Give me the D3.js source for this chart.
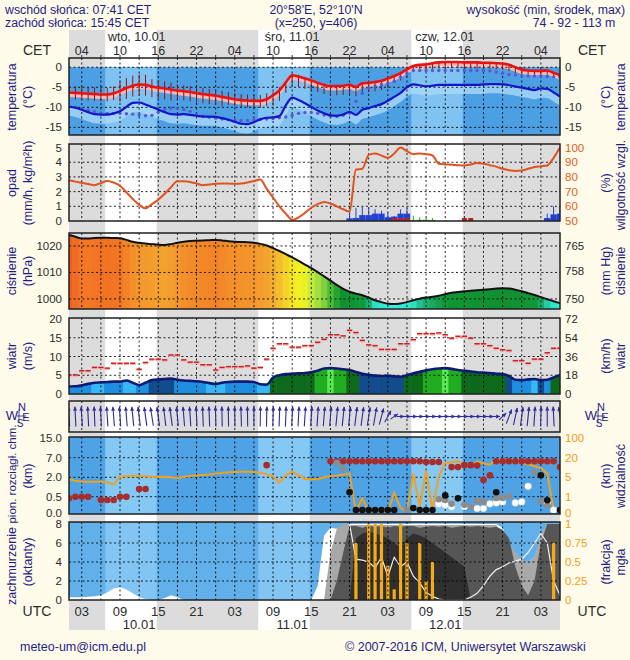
<!DOCTYPE html>
<html><head><meta charset="utf-8">
<script src="https://cdn.jsdelivr.net/npm/d3@7/dist/d3.min.js"></script>
<style>
html,body{margin:0;padding:0;background:#fffbea;}
svg{display:block;font-family:"Liberation Sans",Arial,Helvetica,sans-serif;}
</style></head><body>
<svg id="chart" width="630" height="660"></svg>
<script>
// ---------- DATA (hourly, h=0 is 01 UTC 10.01) ----------
const daylight = [[5.68,13.75],[29.68,37.75],[53.68,61.75]];
const cetLabels = ['04','10','16','22','04','10','16','22','04','10','16','22','04'];
const utcLabels = ['03','09','15','21','03','09','15','21','03','09','15','21','03'];
const labelHours = [2,8,14,20,26,32,38,44,50,56,62,68,74];
const dayNames = ['wto, 10.01','śro, 11.01','czw, 12.01'];
const dayNameHours = [6.1,30.7,54.3];
const dates = ['10.01','11.01','12.01'];
const dateHours = [11,35,59];

const temp = [-6.3,-6.4,-6.5,-6.6,-6.7,-6.8,-6.8,-6.5,-5.9,-5.2,
 -4.6,-4.3,-4.4,-4.8,-5.1,-5.3,-5.6,-5.8,-6.0,-6.2,
 -6.5,-6.7,-6.9,-7.1,-7.4,-7.7,-8.0,-8.2,-8.3,-8.4,
 -8.4,-8.0,-7.0,-5.8,-3.8,-2.0,-2.3,-2.8,-3.3,-3.9,
 -4.4,-4.7,-4.7,-4.6,-4.4,-4.9,-4.0,-3.9,-3.7,-3.4,
 -2.8,-2.2,-1.5,-0.5,0.3,0.6,0.7,1.0,1.2,1.3,
 1.3,1.3,1.2,1.2,1.2,1.1,1.1,1.0,0.9,0.6,
 0.0,-0.6,-0.8,-0.9,-0.9,-0.8,-1.4,-2.0];
const tickUp = [1.7,1.7,1.7,1.7,1.7,1.7,1.7,1.7,2.5,2.5,
 2.5,2.5,2.5,1.8,1.8,1.8,1.8,1.5,1.5,1.5,
 1.5,1.5,1.5,1.5,1.5,1.5,1.5,1.5,1.5,1.5,
 1.5,1.5,0.8,0.8,0.4,0.4,0.4,0.4,0,0,
 0,0,0,0,0,0,0,0,0,0,
 0,0,0,0,0,0,0,0,0,0,
 0,0,0,0,0,0,0,0,0,0,
 0,0,0,0,0,0,0,0];
const tickDown = [1.7,1.7,1.7,1.7,1.7,1.7,1.7,1.7,2.7,2.7,
 2.7,2.7,2.7,2.7,2.7,2.7,2.7,2.3,2.3,2.3,
 2.3,2.3,2.3,2.3,2.3,1.7,1.7,1.7,1.7,1.7,
 1.7,1.7,2.6,2.6,2.6,2.6,2.6,2.6,2.3,2.3,
 2.3,2.3,2.3,2.3,2.3,2.3,2.3,2.3,2.3,2.3,
 2.3,1.8,1.8,1.8,1.5,1.5,1.5,1.5,1.5,1.5,
 1.5,1.5,1.5,1.5,1.5,1.5,1.5,1.5,1.5,1.5,
 1.5,1.0,1.0,1.0,1.0,1.0,1.0,1.0];
const dew = [-9.8,-10.1,-10.6,-11.2,-11.7,-11.8,-11.8,-11.5,-11.0,-9.9,
 -8.9,-8.8,-9.3,-9.9,-10.6,-11.2,-11.7,-11.8,-11.7,-11.9,
 -12.1,-12.3,-12.3,-12.4,-12.7,-13.1,-13.6,-14.1,-14.2,-13.7,
 -13.0,-12.6,-12.5,-12.2,-9.5,-7.6,-8.2,-9.0,-9.9,-10.8,
 -11.5,-12.0,-12.1,-11.8,-11.1,-11.9,-10.6,-10.2,-9.7,-9.2,
 -8.4,-7.4,-6.4,-5.0,-4.3,-4.5,-4.8,-4.6,-4.4,-4.4,
 -4.4,-4.4,-4.4,-4.4,-4.4,-4.3,-4.2,-4.2,-4.3,-4.5,
 -4.8,-5.1,-5.4,-5.7,-5.3,-5.4,-6.3,-7.3];
const ground = [-9.9,-10.0,-10.3,-10.7,-11.1,-11.4,-11.5,-11.5,-11.5,-11.6,
 -11.7,-11.9,-12.1,-12.0,-11.2,-10.5,-10.2,-10.2,-10.5,-11.0,
 -11.7,-12.2,-12.5,-12.7,-12.9,-13.1,-13.2,-13.3,-13.3,-13.1,
 -13.0,-12.9,-12.8,-12.6,-12.4,-12.0,-11.5,-11.3,-11.3,-11.5,
 -11.9,-12.2,-12.3,-12.0,-11.5,-8.5,-6.5,-5.2,-4.7,-4.3,
 -4.0,-3.5,-2.5,-1.5,-0.8,-0.8,-0.8,-0.8,-0.8,-0.8,
 -0.8,-0.8,-0.8,-0.8,-0.8,-0.8,-0.9,-1.2,-1.5,-1.8,
 -1.9,-2.1,-2.2,-2.2,-2.2,-2.3,-2.4,-2.5];

const humidity = [77.7,76.8,76,75.2,74.4,75.8,77.2,76.2,74,69.5,
 65,61,58.6,61.5,64.5,68.5,73,77,77,76.6,
 75.5,74.3,74.8,75.3,75.5,75.5,75.3,75.5,76.2,77.2,
 78.2,72,66,60,55,50.8,52.5,55.5,59,61.5,
 63,62,60,58,56.3,85,85.6,95,96,94.5,
 93,96,100,97.5,95.5,96,95.5,94.6,89,88.5,
 88.3,88,87.8,88.5,89.5,89,88,87,85.5,84.5,
 84,84.3,85.5,86.7,87.3,87.8,93,100];
const snow = [0,0,0,0,0,0,0,0,0,0, 0,0,0,0,0,0,0,0,0,0, 0,0,0,0,0,0,0,0,0,0, 0,0,0,0,0,0,0,0,0,0,
 0,0,0,0,0.18,0.2,0.4,0.4,0.5,0.5, 0.25,0.3,0.5,0.5,0,0,0,0,0,0,
 0,0,0,0,0,0,0,0,0,0, 0,0,0,0,0,0.2,0.45,0.5];
const snowMax = [0,0,0,0,0,0,0,0,0,0, 0,0,0,0,0,0,0,0,0,0, 0,0,0,0,0,0,0,0,0,0, 0,0,0,0,0,0,0,0,0,0,
 0,0,0,0,0.75,0.9,1.0,0.9,0.8,0.7, 0.6,0.35,0.8,0.9,0,0,0,0,0,0,
 0,0,0,0,0,0,0,0,0,0, 0,0,0,0,0,0.5,1.0,1.0];
const rain = [0,0,0,0,0,0,0,0,0,0, 0,0,0,0,0,0,0,0,0,0, 0,0,0,0,0,0,0,0,0,0, 0,0,0,0,0,0,0,0,0,0,
 0,0,0,0,0,0,0,0,0,0, 0,0,0,0,0.05,0.08,0.08,0.05,0,0,
 0,0,0,0,0,0,0,0,0,0, 0,0,0,0,0,0,0,0];
const rainMax = [0,0,0,0,0,0,0,0,0,0, 0,0,0,0,0,0,0,0,0,0, 0,0,0,0,0,0,0,0,0,0, 0,0,0,0,0,0,0,0,0,0,
 0,0,0,0,0,0,0,0,0,0, 0,0,0,0,0.35,0.25,0.25,0.2,0,0,
 0,0,0,0,0,0,0,0,0,0, 0,0,0,0,0,0,0,0];
const sleet = [0,0,0,0,0,0,0,0,0,0, 0,0,0,0,0,0,0,0,0,0, 0,0,0,0,0,0,0,0,0,0, 0,0,0,0,0,0,0,0,0,0,
 0,0,0,0,0,0,0,0,0,0, 0,1,1,1,0,0,0,0,0,0,
 0,0,1,1,0,0,0,0,0,0, 0,0,0,0,0,0,0,0];

const pressure = [1024.2,1023.5,1022.8,1022.8,1023.0,1023.1,1023.1,1023.0,1022.9,1022.3,
 1021.6,1021.2,1020.9,1020.7,1020.5,1020.4,1020.7,1021.2,1021.6,1021.9,
 1022.0,1022.1,1022.2,1022.3,1022.1,1021.8,1021.6,1021.5,1021.4,1021.2,
 1020.8,1020.2,1019.2,1018.1,1016.9,1015.7,1014.4,1013.0,1011.6,1010.1,
 1008.5,1006.9,1005.3,1003.8,1002.7,1002.0,1001.4,1000.5,999.5,998.8,
 998.2,998.1,998.3,998.8,999.5,1000.1,1000.5,1000.8,1001.2,1001.8,
 1002.3,1002.6,1002.9,1003.1,1003.3,1003.5,1003.7,1003.9,1004.0,1003.9,
 1003.5,1002.9,1002.2,1001.5,1000.7,999.9,999.1,998.4];
const pressStops = [998,999.5,1000.5,1001.5,1004,1006,1008.5,1011,1013,1015,1017,1019,1020.5,1022,1023,1024.5];
const pressColors = ['#33f0e0','#2ee0c0','#18b070','#109838','#109030','#30b030','#80d040','#b8e840','#e8f028','#f8f020','#f6d028','#f2b030','#f4a030','#f28a28','#f27424','#f05a1e'];

const wind = [2.0,2.05,2.3,2.7,3.0,3.1,3.2,3.3,3.3,3.6,
 3.0,2.4,3.0,3.7,3.9,4.0,4.1,3.8,3.6,3.5,
 3.4,3.2,2.9,2.7,3.0,3.2,3.3,3.3,3.3,3.2,
 2.6,2.5,4.4,5.0,5.3,5.4,5.5,5.6,5.8,6.2,
 6.8,6.9,6.8,6.6,6.4,5.9,5.4,5.1,4.9,4.8,
 4.9,4.7,4.6,5.0,5.5,5.9,6.3,6.6,6.8,6.9,
 6.7,6.4,6.2,6.0,5.8,5.7,5.6,5.4,5.3,4.8,
 3.8,3.7,3.9,4.0,3.7,3.8,4.4,5.1];
const gust = [5.1,5.1,6.2,6.2,7.1,7.1,6.9,8.2,8.2,8.2,
 8.2,6.6,8.4,9.3,9.3,9.1,10.4,10.4,9.1,8.5,
 8.5,7.8,7.8,6.4,7.1,7.3,7.3,7.3,7.5,6.9,
 7.1,9.3,12.2,13.4,13.4,12.5,12.5,12.9,12.9,13.8,
 14.6,15.8,15.8,15.5,17.0,16.4,14.3,13.1,12.9,11.9,
 11.9,11.9,13.4,13.4,14.5,16.1,16.1,16.1,16.3,15.8,
 14.9,15.4,15.4,14.9,13.4,13.4,12.9,12.2,11.8,11.6,
 8.9,8.9,8.2,9.3,9.3,11.0,12.2,12.2];
const windClass = [1,1,1,1,0,0,1,1,1,0,
 0,1,1,2,2,2,2,1,1,1,
 1,1,0,0,0,1,1,1,1,1,
 0,0,3,3,3,3,3,3,3,4,
 4,5,4,4,3,3,2,2,2,2,
 2,2,2,3,3,3,4,4,4,5,
 4,4,3,3,3,3,3,3,3,2,
 1,1,1,0,2,1,3,3];
const windPalette = ['#38b6f6','#1e8ee0','#124c8c','#0d6a1c','#22ac22','#58ea50'];
const windDir = [-10,-8,-10,-8,-6,-8,-10,-12,-10,-12,
 -15,-18,-20,-22,-20,-18,-20,-15,-12,-10,
 -8,-6,-5,-4,-3,-2,-3,-4,-2,0,
 2,3,4,5,6,8,8,10,10,10,
 12,12,14,15,15,18,20,22,25,35,
 55,75,90,90,90,90,90,90,90,90,
 90,90,90,90,90,90,90,90,70,45,
 30,20,15,10,5,0,-8,-20];

const visibility = [4.6,4.3,4.1,4.1,4.1,4.1,4.0,3.5,5.5,6.0,
 6.0,6.0,5.8,5.5,5.3,5.5,5.2,4.8,5.5,6.0,
 6.4,6.8,7.2,7.8,8.3,8.8,9.0,9.3,9.3,9.0,
 8.5,7.3,5.5,3.9,6.5,9.3,6.5,4.7,4.6,4.6,
 5.0,5.8,6.2,7.0,8.0,0.1,0.9,0.1,0.1,0.1,
 0.1,1.8,0.3,0.1,8.0,0.4,10.0,0.2,6.0,16.0,
 16.5,17.2,15.0,13.5,17.0,15.5,14.7,18.5,18.5,18.0,
 17.2,16.0,15.0,13.5,12.0,8.0,0.2,0.1];
const _ = null;
const baseRed = [0.45,0.5,0.5,0.5,_,0.4,0.4,0.4,0.5,0.5,
 _,1.1,1.1,_,_,_,_,_,_,_,
 _,_,_,_,_,_,_,_,_,_,
 _,5.1,_,_,_,_,_,_,_,_,
 _,6.1,6.1,6.1,6.1,6.1,6.1,6.1,6.1,6.1,
 6.1,6.1,6.1,6.1,6.1,6.1,5.9,5.9,5.9,_,
 4.6,4.6,5.1,5.1,5.0,1.8,2.5,6.1,6.1,6.1,
 6.1,6.1,6.1,6.1,6.1,6.1,6.1,4.6];
const baseGray = [_,_,_,_,_,_,_,_,_,_, _,_,_,_,_,_,_,_,_,_, _,_,_,_,_,_,_,_,_,_, _,_,_,_,_,_,_,_,_,_,
 _,_,5.7,4.25,0.9,_,_,_,_,_,
 _,_,_,0.09,_,_,_,_,0.42,0.4,
 0.28,_,0.25,0.19,0.37,0.34,_,0.46,0.46,0.52,
 _,_,_,3.2,0.37,0.23,_,_];
const baseBlack = [_,_,_,_,_,_,_,_,_,_, _,_,_,_,_,_,_,_,_,_, _,_,_,_,_,_,_,_,_,_, _,_,_,_,_,_,_,_,_,_,
 _,_,_,_,0.84,0.09,0.09,0.09,0.09,0.09,
 0.09,0.09,_,_,0.15,0.09,0.09,0.09,_,0.6,
 _,0.45,_,_,_,_,_,0.84,_,_,
 _,_,_,_,2.5,0.39,_,0.09];
const baseWhite = [_,_,_,_,_,_,_,_,_,_, _,_,_,_,_,_,_,_,_,_, _,_,_,_,_,_,_,_,_,_, _,_,_,_,_,_,_,_,_,_,
 _,_,_,_,_,_,_,_,_,_,
 _,_,_,_,_,_,_,_,0.28,0.25,
 0.19,_,0.19,_,0.14,0.14,0.28,0.31,0.34,_,
 0.31,0.34,1.3,_,_,0.31,0.09,_];

const cloudHigh = [0.3,0.3,0.3,0.35,0.4,0.5,0.8,1.2,1.35,1.1,
 0.7,0.3,0.1,0,0,0.2,0.5,0.3,0,0,
 0,0,0,0,0,0,0,0,0,0,
 0,0,0,0,0,0,0,0,0,1.5,
 6.8,7.6,7.5,7.6,8,8,8,8,8,8,
 8,8,8,8,8,8,8,8,8,8,
 8,8,8,8,8,8,8,8,7.6,6,
 4.5,4,4,4.5,6.5,7.5,8,8];
const cloudMid = [0,0,0,0,0,0,0,0,0,0, 0,0,0,0,0,0,0,0,0,0, 0,0,0,0,0,0,0,0,0,0, 0,0,0,0,0,0,0,0,0,0,
 0,5,7.5,8,7.9,7.9,7.9,7.9,7.9,7.9,
 7.9,7.9,7.9,7.9,7.9,7.9,7.9,7.9,7.9,7.9,
 7.9,7.9,7.9,7.9,7.9,7.9,7.9,7.9,7,6,
 5,4.2,4,4.5,7,8,8,8];
const cloudLow = [0,0,0,0,0,0,0,0,0,0, 0,0,0,0,0,0,0,0,0,0, 0,0,0,0,0,0,0,0,0,0, 0,0,0,0,0,0,0,0,0,0,
 0,0,2,5,7.8,7.8,7.6,7.8,7.7,7.8,
 7.6,7.8,7.7,7.8,7.8,7.6,7.7,7.8,7.7,7.8,
 7.6,7.7,7.8,7.7,7.8,7.7,7.6,7.7,7.4,6.5,
 3.5,1.5,0.5,2,6,8,8,8];
const cloudFog = [0,0,0,0,0,0,0,0,0,0, 0,0,0,0,0,0,0,0,0,0, 0,0,0,0,0,0,0,0,0,0, 0,0,0,0,0,0,0,0,0,0,
 0,0,0,0,0,6.5,7,7.2,7,6.8,
 6.5,6,5.5,6.5,7,6.8,6.5,6,5.5,5,
 4.5,4,3.5,0,0,0,0,0,0,0,
 0,0,0,0,0,0,0,0];
const precipLine = [_,_,_,_,_,_,_,_,_,_, _,_,_,_,_,_,_,_,_,_, _,_,_,_,_,_,_,_,_,_, _,_,_,_,_,_,_,_,_,_,
 _,_,_,_,8,4.3,4.2,4.0,3.4,4.5,
 2.5,4.5,3.5,4.0,2.5,1.8,0.8,0.4,0.1,0,
 0,0,0,0.3,0.7,1.5,2.5,3.2,3.5,3.9,
 4.1,4.3,5.0,6.0,7.0,6.0,2.0,0.5];
const fog = [0,0,0,0,0,0,0,0,0,0, 0,0,0,0,0,0,0,0,0,0, 0,0,0,0,0,0,0,0,0,0, 0,0,0,0,0,0,0,0,0,0,
 0,0,0,0,0,0.75,0,1,1,1,
 0.45,0.14,1,0.75,0,0.75,0.25,0.5,0,0,
 0,0,0,0,0,0,0,0,0,0,
 0,0,0,0,0,0,0.75,0];

// ---------- DRAWING ----------
const svg = d3.select('#chart');
const X0 = 69, X1 = 560;
const x = d3.scaleLinear().domain([0,77]).range([X0,X1]);
const H = d3.range(78);
const gridHours = d3.range(2,77,3);
const NAVY = '#1e1e86', TXT = '#2b2b2b';
const TICKFONT = 11.5, TITLEFONT = 12.5;

svg.append('rect').attr('width',630).attr('height',660).attr('fill','#fffbea');
svg.append('rect').attr('x',X0).attr('y',30).attr('width',X1-X0).attr('height',600).attr('fill','#dcdcdc');
daylight.forEach(d=>svg.append('rect').attr('x',x(d[0])).attr('y',30)
  .attr('width',x(Math.min(d[1],77))-x(d[0])).attr('height',600).attr('fill','#ffffff'));

let clipN = 0;
function panel(y0,y1){
  const id = 'cp'+(clipN++);
  svg.append('clipPath').attr('id',id).append('rect').attr('x',X0).attr('y',y0).attr('width',X1-X0).attr('height',y1-y0);
  return svg.append('g').attr('clip-path','url(#'+id+')');
}
function dayFill(g,y0,y1,night,day){
  g.append('rect').attr('x',X0).attr('y',y0).attr('width',X1-X0).attr('height',Math.max(0,y1-y0)).attr('fill',night);
  daylight.forEach(d=>g.append('rect').attr('x',x(d[0])).attr('y',y0)
    .attr('width',x(Math.min(d[1],77))-x(d[0])).attr('height',Math.max(0,y1-y0)).attr('fill',day));
}
function grid(g,y0,y1,ys){
  gridHours.forEach(h=>g.append('line').attr('x1',x(h)).attr('x2',x(h)).attr('y1',y0).attr('y2',y1)
    .attr('stroke','#000').attr('stroke-width',1).attr('stroke-dasharray','2,2.5').attr('opacity',0.85));
  ys.forEach(y=>g.append('line').attr('x1',X0).attr('x2',X1).attr('y1',y).attr('y2',y)
    .attr('stroke','#000').attr('stroke-width',1).attr('stroke-dasharray','2,2.5').attr('opacity',0.85));
}
function frame(y0,y1){
  svg.append('rect').attr('x',X0).attr('y',y0).attr('width',X1-X0).attr('height',y1-y0)
    .attr('fill','none').attr('stroke','#202020').attr('stroke-width',1.5);
}
function leftTicks(vals,labels,sc,color){
  vals.forEach((v,i)=>svg.append('text').attr('x',62).attr('y',sc(v)).attr('text-anchor','end')
    .attr('dominant-baseline','central').attr('font-size',TICKFONT).attr('fill',color||TXT).text(labels[i]));
}
function rightTicks(vals,labels,sc,color){
  vals.forEach((v,i)=>svg.append('text').attr('x',565).attr('y',sc(v)).attr('text-anchor','start')
    .attr('dominant-baseline','central').attr('font-size',TICKFONT).attr('fill',color||TXT).text(labels[i]));
}
function vtitle(xp,yc,txt,size){
  svg.append('text').attr('transform','translate('+xp+','+yc+') rotate(-90)').attr('text-anchor','middle')
    .attr('dominant-baseline','central').attr('font-size',size||TITLEFONT).attr('fill',NAVY).text(txt);
}

// ---------- header ----------
const HF = 12.3;
svg.append('text').attr('x',5).attr('y',14).attr('font-size',HF).attr('fill',NAVY).text('wschód słońca: 07:41 CET');
svg.append('text').attr('x',5).attr('y',27).attr('font-size',HF).attr('fill',NAVY).text('zachód słońca: 15:45 CET');
svg.append('text').attr('x',316).attr('y',14).attr('font-size',HF).attr('fill',NAVY).attr('text-anchor','middle').text('20°58\'E, 52°10\'N');
svg.append('text').attr('x',316).attr('y',27).attr('font-size',HF).attr('fill',NAVY).attr('text-anchor','middle').text('(x=250,  y=406)');
svg.append('text').attr('x',625).attr('y',14).attr('font-size',HF).attr('fill',NAVY).attr('text-anchor','end').text('wysokość (min, środek, max)');
svg.append('text').attr('x',574).attr('y',27).attr('font-size',HF).attr('fill',NAVY).attr('text-anchor','middle').text('74 - 92 - 113 m');
dayNames.forEach((t,i)=>svg.append('text').attr('x',x(dayNameHours[i])).attr('y',41).attr('font-size',12.5).attr('fill',TXT).text(t));
labelHours.forEach((h,i)=>svg.append('text').attr('x',x(h)).attr('y',55).attr('text-anchor','middle').attr('font-size',12.5).attr('fill',TXT).text(cetLabels[i]));
svg.append('text').attr('x',37).attr('y',55).attr('text-anchor','middle').attr('font-size',14).attr('fill',TXT).text('CET');
svg.append('text').attr('x',592).attr('y',55).attr('text-anchor','middle').attr('font-size',14).attr('fill',TXT).text('CET');

// ---------- temperature ----------
const PT=[58,135];
const yT = d3.scaleLinear().domain([-16.9,2.3]).range([PT[1],PT[0]]);
const gT = panel(PT[0],PT[1]);
dayFill(gT,yT(0),PT[1],'#4d9fe3','#80c3f3');
gT.append('path').datum(H).attr('d',d3.area().x(h=>x(h)).y0(h=>yT(dew[h]-2.3)).y1(h=>yT(dew[h])).curve(d3.curveMonotoneX))
  .attr('fill','#aad8f8').attr('opacity',0.8);
gT.append('path').datum(H).attr('d',d3.area().x(h=>x(h)).y0(h=>yT(temp[h]-1.1)).y1(h=>yT(temp[h]+0.2)).curve(d3.curveMonotoneX))
  .attr('fill','#f6b9b9');
grid(gT,PT[0],PT[1],[0,-5,-10,-15].map(yT));
H.forEach(h=>{ if(tickUp[h]+tickDown[h]>0) gT.append('line').attr('x1',x(h)).attr('x2',x(h))
  .attr('y1',yT(temp[h]+tickUp[h])).attr('y2',yT(temp[h]-tickDown[h])).attr('stroke','#8e1414').attr('stroke-width',1); });
gT.selectAll('circle.g').data(H).enter().append('circle').attr('cx',h=>x(h)).attr('cy',h=>yT(ground[h])).attr('r',1.7).attr('fill','#5a5ad0');
gT.append('path').datum(H).attr('d',d3.line().x(h=>x(h)).y(h=>yT(dew[h])).curve(d3.curveMonotoneX))
  .attr('fill','none').attr('stroke','#1515c8').attr('stroke-width',2.2);
gT.append('path').datum(H).attr('d',d3.line().x(h=>x(h)).y(h=>yT(temp[h])).curve(d3.curveMonotoneX))
  .attr('fill','none').attr('stroke','#e81212').attr('stroke-width',2.6);
frame(PT[0],PT[1]);
gridHours.forEach(h=>svg.append('line').attr('x1',x(h)).attr('x2',x(h)).attr('y1',55).attr('y2',58).attr('stroke','#333'));
leftTicks([0,-5,-10,-15],['0','-5','-10','-15'],yT);
rightTicks([0,-5,-10,-15],['0','-5','-10','-15'],yT);
vtitle(12,97,'temperatura'); vtitle(28,97,'(°C)');
vtitle(606,97,'(°C)'); vtitle(621,97,'temperatura');

// ---------- precipitation / humidity ----------
const PP=[144,221];
const yP = d3.scaleLinear().domain([0,5.24]).range([PP[1],PP[0]]);
const yRH = v=>yP((v-50)/10);
const gP = panel(PP[0],PP[1]);
grid(gP,PP[0],PP[1],[1,2,3,4].map(yP));
H.forEach(h=>{
  if(snow[h]>0) gP.append('rect').attr('x',x(h-0.5)).attr('y',yP(snow[h])).attr('width',x(1)-x(0)).attr('height',yP(0)-yP(snow[h])).attr('fill','#2242d2');
  if(snowMax[h]>0) gP.append('line').attr('x1',x(h)).attr('x2',x(h)).attr('y1',yP(0)).attr('y2',yP(snowMax[h])).attr('stroke','#2242d2').attr('stroke-width',1);
  if(rain[h]>0) gP.append('rect').attr('x',x(h-0.5)).attr('y',yP(rain[h])).attr('width',x(1)-x(0)).attr('height',yP(0)-yP(rain[h])).attr('fill','#2a9e2a');
  if(rainMax[h]>0) gP.append('line').attr('x1',x(h)).attr('x2',x(h)).attr('y1',yP(0)).attr('y2',yP(rainMax[h])).attr('stroke','#2a9e2a').attr('stroke-width',1);
  if(sleet[h]>0) gP.append('rect').attr('x',x(h)-2.5).attr('y',yP(0)-3).attr('width',5).attr('height',3).attr('fill','#c42020');
});
gP.append('path').datum(H).attr('d',d3.line().x(h=>x(h)).y(h=>yRH(humidity[h])).curve(d3.curveMonotoneX))
  .attr('fill','none').attr('stroke','#e0521e').attr('stroke-width',2);
frame(PP[0],PP[1]);
leftTicks([0,1,2,3,4,5],['0','1','2','3','4','5'],yP);
rightTicks([50,60,70,80,90,100],['50','60','70','80','90','100'],yRH,'#e0621e');
vtitle(12,183,'opad'); vtitle(28,183,'(mm/h, kg/m²h)');
vtitle(606,183,'(%)'); vtitle(621,185,'wilgotność wzgl.');

// ---------- pressure ----------
const PR=[233,309];
const yPr = d3.scaleLinear().domain([996.2,1024.9]).range([PR[1],PR[0]]);
const pCol = d3.scaleLinear().domain(pressStops).range(pressColors).clamp(true);
const gR = panel(PR[0],PR[1]);
svg.append('clipPath').attr('id','pressArea').append('path').datum(H)
  .attr('d',d3.area().x(h=>x(h)).y0(PR[1]).y1(h=>yPr(pressure[h])).curve(d3.curveMonotoneX));
const gRa = gR.append('g').attr('clip-path','url(#pressArea)');
H.forEach(h=>gRa.append('rect').attr('x',x(h-0.5)).attr('y',PR[0]).attr('width',x(1)-x(0)+0.6).attr('height',PR[1]-PR[0]).attr('fill',pCol(pressure[h])));
grid(gR,PR[0],PR[1],[1000,1010,1020].map(yPr));
gR.append('path').datum(H).attr('d',d3.line().x(h=>x(h)).y(h=>yPr(pressure[h])).curve(d3.curveMonotoneX))
  .attr('fill','none').attr('stroke','#111').attr('stroke-width',2);
frame(PR[0],PR[1]);
leftTicks([1000,1010,1020],['1000','1010','1020'],yPr);
rightTicks([750,758,765],['750','758','765'],v=>yPr(v*1.33322));
vtitle(12,271,'ciśnienie'); vtitle(28,271,'(hPa)');
vtitle(606,271,'(mm Hg)'); vtitle(621,271,'ciśnienie');

// ---------- wind ----------
const PW=[318,394];
const yW = d3.scaleLinear().domain([0,20.27]).range([PW[1],PW[0]]);
const gW = panel(PW[0],PW[1]);
svg.append('clipPath').attr('id','windArea').append('path').datum(H)
  .attr('d',d3.area().x(h=>x(h)).y0(PW[1]).y1(h=>yW(wind[h])).curve(d3.curveMonotoneX));
const gWa = gW.append('g').attr('clip-path','url(#windArea)');
H.forEach(h=>gWa.append('rect').attr('x',x(h-0.5)).attr('y',PW[0]).attr('width',x(1)-x(0)+0.6).attr('height',PW[1]-PW[0]).attr('fill',windPalette[windClass[h]]));
grid(gW,PW[0],PW[1],[5,10,15].map(yW));
gW.append('path').datum(H).attr('d',d3.line().x(h=>x(h)).y(h=>yW(wind[h])).curve(d3.curveMonotoneX))
  .attr('fill','none').attr('stroke','#0c1a72').attr('stroke-width',2.6);
H.forEach(h=>{
  gW.append('line').attr('x1',x(h-0.42)).attr('x2',x(h+0.42)).attr('y1',yW(gust[h])+1.3).attr('y2',yW(gust[h])+1.3).attr('stroke','#f4b0b0').attr('stroke-width',1.2);
  gW.append('line').attr('x1',x(h-0.42)).attr('x2',x(h+0.42)).attr('y1',yW(gust[h])).attr('y2',yW(gust[h])).attr('stroke','#d01e1e').attr('stroke-width',1.5);
});
frame(PW[0],PW[1]);
leftTicks([0,5,10,15,20],['0','5','10','15','20'],yW);
rightTicks([0,18,36,54,72],['0','18','36','54','72'],v=>yW(v/3.6));
vtitle(12,356,'wiatr'); vtitle(28,356,'(m/s)');
vtitle(606,356,'(km/h)'); vtitle(621,356,'wiatr');

// ---------- wind direction ----------
const PD=[401,432];
const gD = panel(PD[0],PD[1]);
grid(gD,PD[0],PD[1],[]);
const ym=(PD[0]+PD[1])/2;
H.forEach(h=>{
  const a=windDir[h]*Math.PI/180;
  const dx=Math.sin(a)*3.8, dy=-Math.cos(a)*10;
  const sx=x(h)-dx, sy=ym-dy, ex=x(h)+dx, ey=ym+dy;
  const L=Math.hypot(ex-sx,ey-sy), ux=(ex-sx)/L, uy=(ey-sy)/L;
  gD.append('line').attr('x1',sx).attr('y1',sy).attr('x2',ex).attr('y2',ey).attr('stroke','#2c2ca0').attr('stroke-width',1.1);
  const hx=ex-ux*4, hy=ey-uy*4;
  gD.append('path').attr('d','M'+ex+','+ey+'L'+(hx-uy*2)+','+(hy+ux*2)+'L'+(hx+uy*2)+','+(hy-ux*2)+'Z').attr('fill','#2c2ca0');
});
frame(PD[0],PD[1]);
function compass(cx){
  const g=svg.append('g').attr('fill',NAVY).attr('font-size',11).attr('text-anchor','middle');
  g.append('text').attr('x',cx-6).attr('y',420).attr('font-size',13).text('W');
  g.append('text').attr('x',cx+4).attr('y',411).text('N');
  g.append('text').attr('x',cx+8).attr('y',421).text('E');
  g.append('text').attr('x',cx+2).attr('y',427).attr('font-size',10).text('S');
  svg.append('line').attr('x1',cx+1).attr('x2',cx+1).attr('y1',409).attr('y2',423).attr('stroke',NAVY).attr('stroke-width',0.8);
  svg.append('line').attr('x1',cx-1).attr('x2',cx+8).attr('y1',416).attr('y2',416).attr('stroke',NAVY).attr('stroke-width',0.8);
}
compass(18); compass(597);

// ---------- visibility / cloud base ----------
const PV=[437,514];
const yV = d3.scaleLinear().domain([0,0.5,2,7,15]).range([513,496.7,477.3,457.7,438]);
const yVr = d3.scaleLinear().domain([0,1,5,20,100]).range([513,496.7,477.3,457.7,438]);
const gV = panel(PV[0],PV[1]);
dayFill(gV,PV[0],PV[1],'#4fa3e4','#86c8f4');
grid(gV,PV[0],PV[1],[0.5,2,7].map(yV));
gV.append('path').datum(H).attr('d',d3.line().x(h=>x(h)).y(h=>yVr(visibility[h])))
  .attr('fill','none').attr('stroke','#f2a01e').attr('stroke-width',2);
function dots(arr,col,stroke){
  gV.selectAll(null).data(H.filter(h=>arr[h]!==null)).enter().append('circle')
    .attr('cx',h=>x(h)).attr('cy',h=>yV(arr[h])).attr('r',3.3).attr('fill',col).attr('stroke',stroke||'none').attr('stroke-width',0.6);
}
dots(baseRed,'#a82c2c');
dots(baseWhite,'#ffffff','#dddddd');
dots(baseGray,'#8c8c8c');
dots(baseBlack,'#111111');
frame(PV[0],PV[1]);
leftTicks([0,0.5,2,7,15],['0.0','0.5','2.0','7.0','15.0'],yV);
rightTicks([0,1,5,20,100],['0','1','5','20','100'],yVr,'#f09a20');
vtitle(12,474,'pion. rozciągł. chm.',11.5); vtitle(28,476,'(km)');
vtitle(606,476,'(km)'); vtitle(621,476,'widzialność');

// ---------- cloud cover / fog ----------
const PC=[522,600];
const yC = d3.scaleLinear().domain([0,8]).range([600,524]);
const yF = v=>yC(v*8);
const gC = panel(PC[0],PC[1]);
dayFill(gC,PC[0],PC[1],'#62b0ea','#82c4f2');
[[cloudHigh,'#ffffff'],[cloudMid,'#a8a8a8'],[cloudLow,'#565656'],[cloudFog,'#2f2f2f']].forEach(([arr,col])=>{
  gC.append('path').datum(H).attr('d',d3.area().x(h=>x(h)).y0(yC(0)).y1(h=>yC(arr[h]))).attr('fill',col);
});
gC.append('path').datum(H).attr('d',d3.line().defined(h=>precipLine[h]!==null).x(h=>x(h)).y(h=>yC(precipLine[h])))
  .attr('fill','none').attr('stroke','#f0f0f0').attr('stroke-width',1.2);
H.forEach(h=>{ if(fog[h]>0) gC.append('rect').attr('x',x(h)-1.6).attr('y',yF(fog[h])).attr('width',3.2).attr('height',yF(0)-yF(fog[h])).attr('fill','#f5aa18'); });
grid(gC,PC[0],PC[1],[2,4,6].map(yC));
frame(PC[0],PC[1]);
leftTicks([0,2,4,6,8],['0','2','4','6','8'],yC);
rightTicks([0,0.25,0.5,0.75,1],['0','0.25','0.5','0.75','1'],yF,'#f0a020');
vtitle(12,566,'zachmurzenie'); vtitle(28,562,'(oktanty)');
vtitle(606,562,'(frakcja)'); vtitle(621,562,'mgła');

// ---------- bottom axis ----------
labelHours.forEach((h,i)=>svg.append('text').attr('x',x(h)).attr('y',616).attr('text-anchor','middle').attr('font-size',13).attr('fill',TXT).text(utcLabels[i]));
dates.forEach((t,i)=>svg.append('text').attr('x',x(dateHours[i])).attr('y',629).attr('text-anchor','middle').attr('font-size',13).attr('fill',TXT).text(t));
svg.append('text').attr('x',37).attr('y',616).attr('text-anchor','middle').attr('font-size',14).attr('fill',TXT).text('UTC');
svg.append('text').attr('x',592).attr('y',616).attr('text-anchor','middle').attr('font-size',14).attr('fill',TXT).text('UTC');

// ---------- footer ----------
svg.append('text').attr('x',20).attr('y',651).attr('font-size',12.5).attr('fill',NAVY).text('meteo-um@icm.edu.pl');
svg.append('text').attr('x',345).attr('y',651).attr('font-size',12.5).attr('fill',NAVY).text('© 2007-2016 ICM, Uniwersytet Warszawski');
</script>
</body></html>
